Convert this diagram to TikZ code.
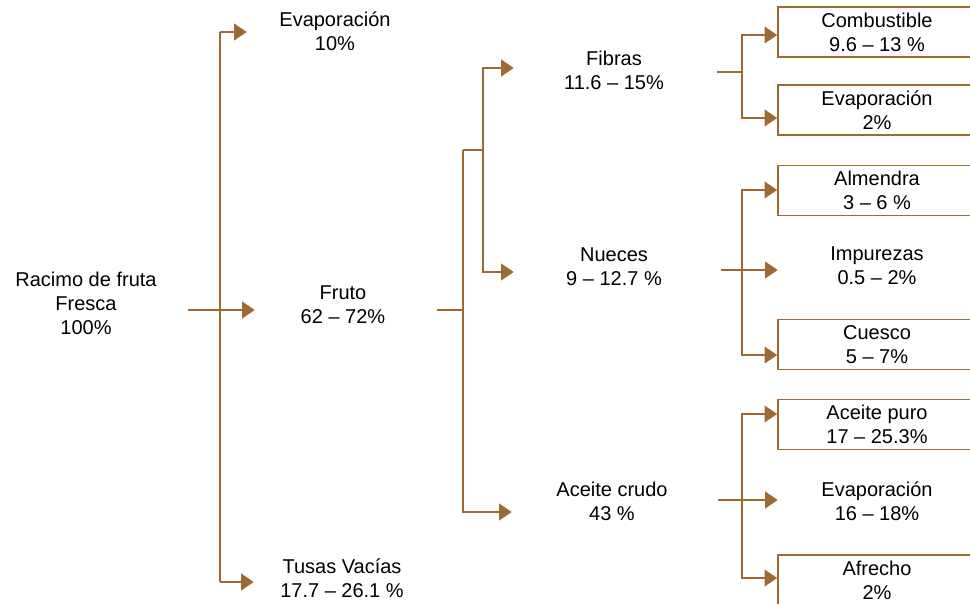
\documentclass[tikz,border=0pt]{standalone}
\usepackage{fontspec}
\setmainfont{Liberation Sans}
\usetikzlibrary{arrows.meta}
\definecolor{cafe}{RGB}{158,106,50}

\begin{document}
\begin{tikzpicture}[x=0.75pt,y=0.75pt,yscale=-1,xscale=1,
    linea/.style={draw=cafe,line width=1.4pt},
    flecha/.style={linea,-{Triangle[length=9.5pt,width=12.5pt]}},
    etiq/.style={align=center,inner sep=0pt,font=\fontsize{15}{18}\selectfont},
    caja/.style={etiq,draw=cafe,line width=1.2pt,minimum width=148.5pt,minimum height=37.5pt},
  ]
  \useasboundingbox (0,0) rectangle (970,603);
  \clip (0,0) rectangle (970,603);

  % Text Node
  \node[etiq,minimum width=153pt] (racimo) at (86,303.5) {Racimo de fruta\\Fresca\\100\%};
  % Text Node
  \node[etiq,minimum width=132pt] (evap1) at (335,31.5) {Evaporación\\10\%};
  \node[etiq,minimum width=132pt] (fruto) at (343,305) {Fruto\\62 – 72\%};
  \node[etiq,minimum width=132pt] (tusas) at (342,578.5) {Tusas Vacías\\17.7 – 26.1 \%};
  % Text Node
  \node[etiq,minimum width=150pt] (fibras) at (614,70) {Fibras\\11.6 – 15\%};
  \node[etiq,minimum width=150pt] (nueces) at (614,266.5) {Nueces\\9 – 12.7 \%};
  \node[etiq,minimum width=150pt] (aceite) at (612,501.5) {Aceite crudo\\43 \%};

  %Shape: Rectangle
  \node[caja] (combus) at (877,32) {Combustible\\9.6 – 13 \%};
  \node[caja] (evap2) at (877,110) {Evaporación\\2\%};
  \node[caja] (almendra) at (877,190.5) {Almendra\\3 – 6 \%};
  \node[etiq,minimum width=148.5pt] (impur) at (877,266) {Impurezas\\0.5 – 2\%};
  \node[caja] (cuesco) at (877,344.5) {Cuesco\\5 – 7\%};
  \node[caja] (apuro) at (877,424.5) {Aceite puro\\17 – 25.3\%};
  \node[etiq,minimum width=148.5pt] (evap3) at (877,501) {Evaporación\\16 – 18\%};
  \node[caja] (afrecho) at (877,580) {Afrecho\\2\%};

  % branch points
  \coordinate (jL) at (220,310);
  \coordinate (a1) at (220,32);
  \coordinate (a2) at (220,582);
  \coordinate (b0) at (463,310);
  \coordinate (b1) at (463,150);
  \coordinate (b2) at (463,512);
  \coordinate (c0) at (483,150);
  \coordinate (c1) at (483,68);
  \coordinate (c2) at (483,272);
  \coordinate (d0) at (742,72);
  \coordinate (d1) at (742,35);
  \coordinate (d2) at (742,118);
  \coordinate (e0) at (742,270);
  \coordinate (e1) at (742,190);
  \coordinate (e2) at (742,355);
  \coordinate (f0) at (742,500);
  \coordinate (f1) at (742,414);
  \coordinate (f2) at (742,578);

  %Straight Lines
  \draw[linea] (a1) -- (a2);
  \draw[flecha] (a1) -- (a1 -| evap1.west);
  \draw[flecha] (a2) -- (a2 -| tusas.west);
  \draw[flecha] (racimo.east |- jL) -- (jL -| fruto.west);

  %Straight Lines
  \draw[linea,shorten <=4.5pt] (fruto.east |- b0) -- (b0);
  \draw[linea] (b1) -- (c0);
  \draw[flecha] (b1) |- (b2 -| aceite.west);
  \draw[flecha] (c0) |- (c1 -| fibras.west);
  \draw[flecha] (c0) |- (c2 -| nueces.west);

  %Straight Lines
  \draw[linea,shorten <=2pt] (fibras.east |- d0) -- (d0);
  \draw[flecha] (d0) |- (d1 -| combus.west);
  \draw[flecha] (d0) |- (d2 -| evap2.west);
  \draw[flecha,shorten <=5pt] (nueces.east |- e0) -- (e0 -| impur.west);
  \draw[flecha] (e0) |- (e1 -| almendra.west);
  \draw[flecha] (e0) |- (e2 -| cuesco.west);
  \draw[flecha,shorten <=4.5pt] (aceite.east |- f0) -- (f0 -| evap3.west);
  \draw[flecha] (f0) |- (f1 -| apuro.west);
  \draw[flecha] (f0) |- (f2 -| afrecho.west);
\end{tikzpicture}
\end{document}
